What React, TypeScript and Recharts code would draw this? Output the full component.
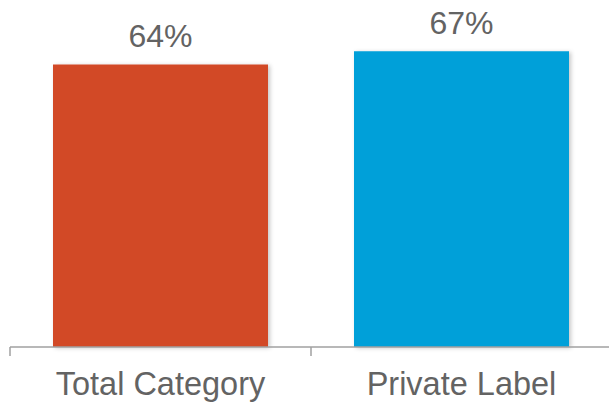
import { BarChart, Bar, XAxis, YAxis, LabelList, Cell } from 'recharts';

const categories = ['Total Category', 'Private Label'];
const shares = [64, 67];
const barColors = ['#D24A28', '#00A0D9'];

const data = categories.map((name, i) => ({ name, share: shares[i] }));

const FONT = '"Liberation Sans", Arial, sans-serif';
const TEXT_GRAY = '#636363';
const AXIS_GRAY = '#A0A0A0';

function CategoryTick(props: any) {
  const { x, y, payload } = props;
  const half = payload?.offset ?? 150.5;
  return (
    <g>
      <line x1={x - half} y1={y - 10} x2={x - half} y2={y - 1} stroke={AXIS_GRAY} strokeWidth={1.5} />
      <text x={x} y={y} dy={38} textAnchor="middle" fill={TEXT_GRAY} fontSize={32.5} fontFamily={FONT}>
        {payload.value}
      </text>
    </g>
  );
}

export default function App() {
  return (
    <div style={{ position: 'absolute', left: 0, top: 0, width: 609, height: 402, overflow: 'hidden', background: '#fff' }}>
      <BarChart width={612} height={402} data={data} margin={{ top: 38, right: 0, left: 10, bottom: 0 }}>
        <defs>
          <filter id="barShadow" x="-10%" y="-10%" width="125%" height="125%">
            <feDropShadow dx="2" dy="1" stdDeviation="2" floodColor="#000" floodOpacity="0.22" />
          </filter>
        </defs>
        <XAxis
          dataKey="name"
          height={55}
          axisLine={{ stroke: AXIS_GRAY, strokeWidth: 1.5 }}
          tickLine={false}
          tickSize={8}
          tickMargin={2}
          interval={0}
          tick={<CategoryTick />}
        />
        <YAxis hide domain={[0, 70]} />
        <Bar dataKey="share" barSize={215} isAnimationActive={false} filter="url(#barShadow)">
          {data.map((d, i) => (
            <Cell key={d.name} fill={barColors[i]} />
          ))}
          <LabelList
            dataKey="share"
            position="top"
            offset={17}
            formatter={(v: any) => `${v}%`}
            fill={TEXT_GRAY}
            fontSize={32}
            fontFamily={FONT}
          />
        </Bar>
      </BarChart>
    </div>
  );
}
